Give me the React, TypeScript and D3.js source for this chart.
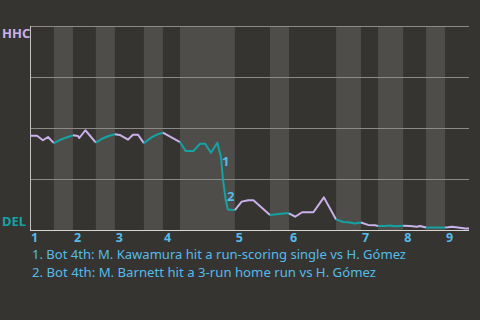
import React, { useEffect } from "react";
import * as d3 from "d3";

// Half-inning boundaries in play units (game progress)
const halfStarts = [0, 9.8, 17.6, 27, 34.8, 46.7, 54.5, 61.5, 84, 98.4, 106.2, 125.5, 135.7, 142.7, 153, 162.4, 170.2, 180];
const innings = ["1", "2", "3", "4", "5", "6", "7", "8", "9"];

// Win probability for HHC (1 = HHC, 0 = DEL) at each play
const plays = [0, 2.9, 5.3, 7.4, 9.8, 13, 15.5, 17.6, 19.7, 20.2, 22.7, 27, 30, 32.5, 34.8, 36.8, 40.2, 42.2, 44.3, 46.7, 50, 52.5, 54.5, 61.5, 63.8, 67, 69.7, 71.8, 74.2, 76.8, 78.3, 79.1, 80.2, 81.1, 84, 86.8, 89.5, 91.6, 98.4, 102, 105.2, 106.2, 108.7, 111.6, 116.2, 120.5, 125.5, 128.5, 131.2, 133.2, 135.7, 138.6, 141.5, 142.7, 145.6, 147.6, 149.7, 153, 155.8, 158.7, 159.9, 162.4, 170.2, 171.4, 173, 175.5, 178.4, 180];
const wp = [0.462, 0.462, 0.44, 0.456, 0.426, 0.445, 0.456, 0.464, 0.461, 0.451, 0.489, 0.428, 0.45, 0.462, 0.469, 0.466, 0.443, 0.467, 0.467, 0.426, 0.455, 0.47, 0.477, 0.431, 0.387, 0.387, 0.423, 0.423, 0.379, 0.428, 0.358, 0.251, 0.153, 0.1, 0.098, 0.139, 0.146, 0.146, 0.074, 0.078, 0.082, 0.082, 0.065, 0.087, 0.087, 0.16, 0.052, 0.039, 0.037, 0.032, 0.037, 0.025, 0.023, 0.02, 0.02, 0.022, 0.018, 0.021, 0.02, 0.016, 0.02, 0.012, 0.012, 0.013, 0.016, 0.012, 0.007, 0.007];

const eventPlays = [77.9, 80];
const eventWp = [0.333, 0.162];
const eventLabels = ["1", "2"];
const notes = [
  "1. Bot 4th: M. Kawamura hit a run-scoring single vs H. Gómez",
  "2. Bot 4th: M. Barnett hit a 3-run home run vs H. Gómez",
];
const teams = ["HHC", "DEL"];
const yTicks = [0, 0.25, 0.5, 0.75, 1];

const W = 480, H = 320;
const M = { left: 30, right: 11, top: 26, bottom: 90 };
const BG = "#363430";
const BAND = "#4f4d4a";
const GRID = "#8b8a87";
const PURPLE = "#c9b1ea";
const TEAL = "#13a3a3";
const BLUE = "#55bbe9";
const FONT = "'Noto Sans', sans-serif";

export default function App() {
  useEffect(() => {
    document.body.style.margin = "0";
    document.body.style.background = BG;
  }, []);
  const x = d3.scaleLinear().domain([0, 180]).range([M.left, W - M.right]);
  const y = d3.scaleLinear().domain([0, 1]).range([H - M.bottom, M.top]);
  const line = d3.line<number>().x((i) => x(plays[i])).y((i) => y(wp[i]));
  const segs = [] as { d: string; color: string }[];
  for (let h = 0; h < halfStarts.length - 1; h++) {
    const idx = plays.map((_, i) => i).filter((i) => plays[i] >= halfStarts[h] - 1e-6 && plays[i] <= halfStarts[h + 1] + 1e-6);
    segs.push({ d: line(idx) || "", color: h % 2 === 0 ? PURPLE : TEAL });
  }
  return (
    <div style={{ position: "absolute", left: 0, top: 0, width: W, height: H, background: BG }}>
      <svg width={W} height={H} style={{ display: "block" }}>
        <rect x={0} y={0} width={W} height={H} fill={BG} />
        {halfStarts.slice(0, -1).map((s, h) =>
          h % 2 === 1 ? (
            <rect key={"b" + h} x={x(s)} y={y(1)} width={x(halfStarts[h + 1]) - x(s)} height={y(0) - y(1)} fill={BAND} />
          ) : null
        )}
        {yTicks.slice(1).map((t) => (
          <line key={"g" + t} x1={x(0)} x2={x(180)} y1={Math.round(y(t)) + 0.5} y2={Math.round(y(t)) + 0.5} stroke={GRID} strokeWidth={1} />
        ))}
        <line x1={x(0) + 0.5} x2={x(0) + 0.5} y1={y(1)} y2={y(0)} stroke="#c4c3c1" strokeWidth={1} />
        <line x1={x(0)} x2={x(180)} y1={y(0) + 0.5} y2={y(0) + 0.5} stroke="#d6d5d3" strokeWidth={1} />
        {segs.map((s, i) => (
          <path key={"s" + i} d={s.d} fill="none" stroke={s.color} strokeWidth={2} strokeLinejoin="round" />
        ))}
        {eventLabels.map((l, i) => (
          <text key={"e" + i} x={x(eventPlays[i]) + 2} y={y(eventWp[i]) + 4} fill={BLUE} fontFamily={FONT} fontWeight={700} fontSize={13}>{l}</text>
        ))}
        <text x={2} y={38} fill={PURPLE} fontFamily={FONT} fontWeight={700} fontSize={13}>{teams[0]}</text>
        <text x={2} y={226} fill={TEAL} fontFamily={FONT} fontWeight={700} fontSize={13}>{teams[1]}</text>
        {innings.map((l, i) => (
          <text key={"i" + i} x={x(halfStarts[i * 2]) + 1} y={241.8} fill={BLUE} fontFamily={FONT} fontWeight={700} fontSize={12.5}>{l}</text>
        ))}
        <text x={32} y={258.5} fill={BLUE} fontFamily={FONT} fontSize={12} textLength={374} lengthAdjust="spacingAndGlyphs">{notes[0]}</text>
        <text x={32} y={277} fill={BLUE} fontFamily={FONT} fontSize={12} textLength={344} lengthAdjust="spacingAndGlyphs">{notes[1]}</text>
      </svg>
    </div>
  );
}
